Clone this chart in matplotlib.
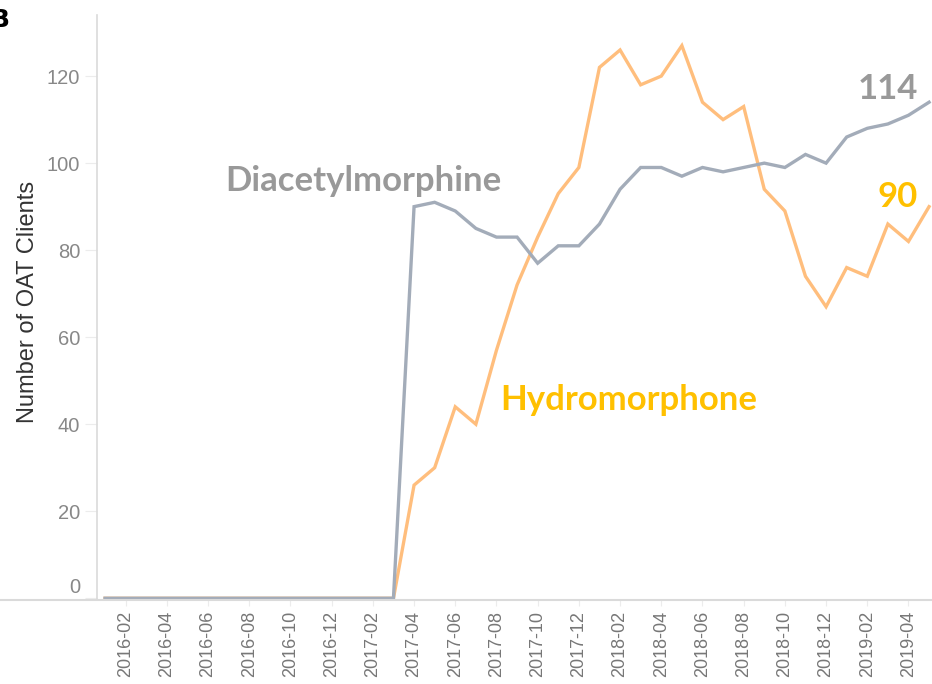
import matplotlib.pyplot as plt
from matplotlib.lines import Line2D
from matplotlib.transforms import ScaledTranslation

# monthly counts, 2016-01 .. 2019-05
months = ['2016-01', '2016-02', '2016-03', '2016-04', '2016-05', '2016-06', '2016-07', '2016-08',
          '2016-09', '2016-10', '2016-11', '2016-12', '2017-01', '2017-02', '2017-03', '2017-04',
          '2017-05', '2017-06', '2017-07', '2017-08', '2017-09', '2017-10', '2017-11', '2017-12',
          '2018-01', '2018-02', '2018-03', '2018-04', '2018-05', '2018-06', '2018-07', '2018-08',
          '2018-09', '2018-10', '2018-11', '2018-12', '2019-01', '2019-02', '2019-03', '2019-04',
          '2019-05']
diacetylmorphine = [0, 0, 0, 0, 0, 0, 0, 0, 0, 0, 0, 0, 0, 0, 0,
                    90, 91, 89, 85, 83, 83, 77, 81, 81,
                    86, 94, 99, 99, 97, 99, 98, 99, 100, 99, 102, 100,
                    106, 108, 109, 111, 114]
hydromorphone = [0, 0, 0, 0, 0, 0, 0, 0, 0, 0, 0, 0, 0, 0, 0,
                 26, 30, 44, 40, 57, 72, 83, 93, 99,
                 122, 126, 118, 120, 127, 114, 110, 113, 94, 89, 74, 67,
                 76, 74, 86, 82, 90]
y_ticks = [0, 20, 40, 60, 80, 100, 120]

GRAY_LINE = '#a3acb9'
ORANGE_LINE = '#ffbe7d'
GRAY_TXT = '#999999'
GOLD_TXT = '#ffc000'
AXIS_C = '#dadada'

fig = plt.figure(figsize=(9.32, 6.84), dpi=100)
ax = fig.add_axes([0.1041, 0.1228, 0.91, 0.855])

x = list(range(len(months)))
ax.plot(x, hydromorphone, color=ORANGE_LINE, lw=2.4, solid_joinstyle='miter')
ax.plot(x, diacetylmorphine, color=GRAY_LINE, lw=2.4, solid_joinstyle='miter')

ax.set_xlim(-0.39, 40.78)
ax.set_ylim(-0.4, 134)

ax.set_yticks(y_ticks)
ax.set_yticklabels([str(v) for v in y_ticks], fontfamily='Liberation Sans', fontsize=14.5, color='#888888')
ax.set_xticks(x[1::2])
ax.set_xticklabels(months[1::2], rotation=90, fontfamily='Liberation Sans', fontsize=13, color='#777777')
ax.tick_params(axis='y', length=9, color='#ececec', pad=3)
ax.tick_params(axis='x', length=4, color='#ececec', pad=4)

# the zero label sits a little above the baseline
zero_lbl = ax.get_yticklabels()[0]
zero_lbl.set_transform(zero_lbl.get_transform() + ScaledTranslation(0, 13 / 100, fig.dpi_scale_trans))

for s in ['top', 'right', 'bottom']:
    ax.spines[s].set_visible(False)
ax.spines['left'].set_color(AXIS_C)
ax.spines['left'].set_linewidth(1.2)

# bottom rule runs across the whole figure
fig.add_artist(Line2D([0, 1], [0.1228, 0.1228], color=AXIS_C, lw=1.5))

fig.text(28 / 932, 1 - 302 / 684, 'Number of OAT Clients', rotation=90, ha='center', va='center',
         fontfamily='Liberation Sans', fontsize=17, color='#333333')

lbl = dict(fontfamily='Lato', fontweight='bold', fontsize=25)
ax.text(12.55, 96, 'Diacetylmorphine', color=GRAY_TXT, ha='center', va='center', **lbl)
ax.text(25.4, 45.5, 'Hydromorphone', color=GOLD_TXT, ha='center', va='center', **lbl)
ax.text(39.45, 117, str(diacetylmorphine[-1]), color=GRAY_TXT, ha='right', va='center', **lbl)
ax.text(39.45, 92.2, str(hydromorphone[-1]), color=GOLD_TXT, ha='right', va='center', **lbl)

fig.text(0.0, 1 - 20 / 684, 'B', ha='center', va='center', fontsize=18, fontweight='bold', color='black')

plt.savefig('out.png', dpi=100)
